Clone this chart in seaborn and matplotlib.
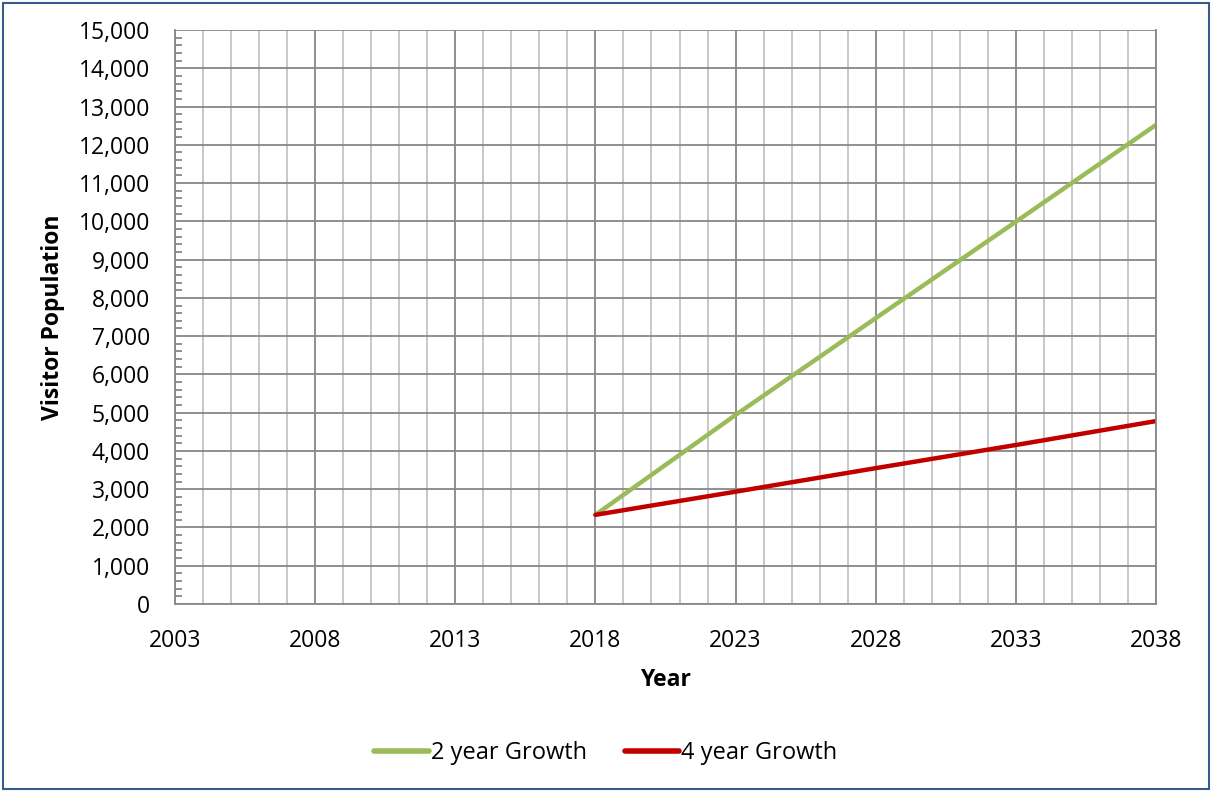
import matplotlib
matplotlib.use("Agg")
import matplotlib.pyplot as plt
from matplotlib.ticker import FixedLocator, MultipleLocator, FuncFormatter
from matplotlib.patches import Rectangle
import seaborn as sns
import pandas as pd

years = [2018, 2023, 2028, 2033, 2038]
growth_2yr = [2330, 4940, 7470, 9990, 12520]
growth_4yr = [2330, 2935, 3550, 4155, 4780]
series_names = ["2 year Growth", "4 year Growth"]
colors = ["#9BBB59", "#C00000"]
x_ticks = [2003, 2008, 2013, 2018, 2023, 2028, 2033, 2038]

df = pd.concat([
    pd.DataFrame({"Year": years, "Visitor Population": growth_2yr, "Series": series_names[0]}),
    pd.DataFrame({"Year": years, "Visitor Population": growth_4yr, "Series": series_names[1]}),
])

sns.set_theme(style="white")
plt.rcParams["font.family"] = ["Open Sans", "DejaVu Sans"]
plt.rcParams["text.color"] = "black"
plt.rcParams["axes.labelcolor"] = "black"

fig = plt.figure(figsize=(12.12, 7.92), dpi=100)
ax = fig.add_axes([175 / 1212, 1 - 604 / 792, (1156 - 175) / 1212, (604 - 30) / 792])

sns.lineplot(data=df, x="Year", y="Visitor Population", hue="Series",
             palette=colors, linewidth=3.2, ax=ax, legend=True,
             solid_capstyle="round")

ax.set_xlim(2003, 2038)
ax.set_ylim(0, 15000)
ax.xaxis.set_major_locator(FixedLocator(x_ticks))
ax.xaxis.set_minor_locator(MultipleLocator(1))
ax.xaxis.set_major_formatter(FuncFormatter(lambda v, p: f"{int(round(v))}"))
ax.yaxis.set_major_locator(MultipleLocator(1000))
ax.yaxis.set_minor_locator(MultipleLocator(200))
ax.yaxis.set_major_formatter(FuncFormatter(lambda v, p: f"{int(v):,}"))

ax.grid(which="major", axis="both", color="#878787", linewidth=1.3)
ax.grid(which="minor", axis="x", color="#C4C4C4", linewidth=1.3)
ax.set_axisbelow(True)

ax.spines["top"].set_visible(False)
for s in ["left", "bottom", "right"]:
    ax.spines[s].set_color("#878787")
    ax.spines[s].set_linewidth(1.3)

ax.tick_params(axis="both", which="major", direction="out", length=6, width=1.3,
               color="#878787", labelsize=16.5, labelcolor="black")
ax.tick_params(axis="y", which="major", pad=12)
ax.tick_params(axis="x", which="major", pad=12)
ax.tick_params(axis="y", which="minor", direction="in", length=5, width=1.3,
               color="#878787", left=True)
ax.tick_params(axis="x", which="minor", length=0)

ax.set_xlabel("Year", fontsize=16.5, fontweight="bold", labelpad=11, color="black")
ax.set_ylabel("Visitor Population", fontsize=16.5, fontweight="bold", labelpad=10, color="black")

leg = ax.legend(loc="center", bbox_to_anchor=(0.5, 1 - 753 / 792), bbox_transform=fig.transFigure,
                ncol=2, frameon=False, fontsize=17, handlelength=2.3, handletextpad=0.1,
                columnspacing=1.6)
for line in leg.get_lines():
    line.set_linewidth(4)
    line.set_solid_capstyle("round")
for t in leg.get_texts():
    t.set_color("black")

fig.patches.append(Rectangle((3 / 1212, 3 / 792), 1 - 6 / 1212, 1 - 6 / 792,
                             transform=fig.transFigure, fill=False,
                             edgecolor="#385D8A", linewidth=1.5))

fig.savefig("out.png", dpi=100)
